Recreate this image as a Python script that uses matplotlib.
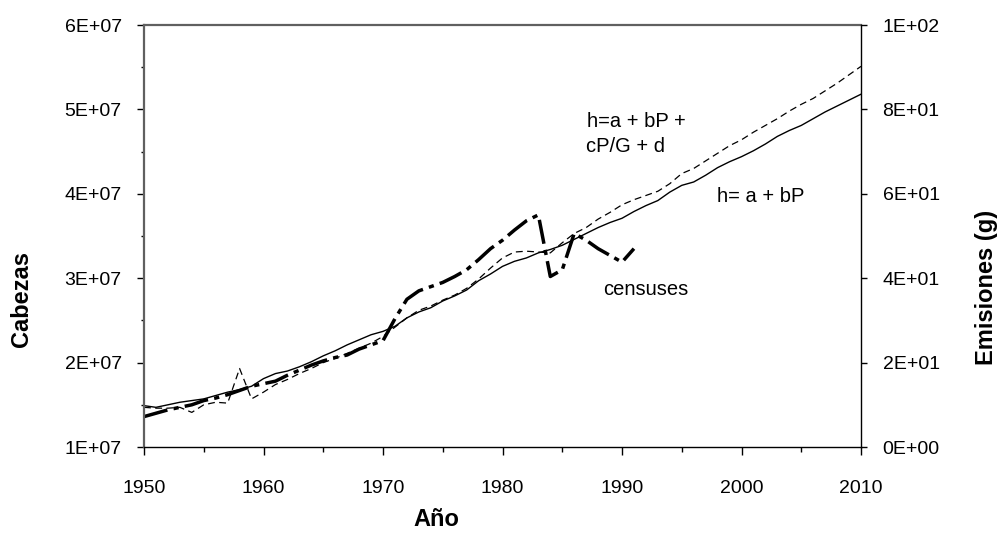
import numpy as np
import matplotlib
matplotlib.use("Agg")
import matplotlib.pyplot as plt
from matplotlib.ticker import FuncFormatter, MultipleLocator, FixedLocator

plt.rcParams['font.family'] = ['Liberation Sans', 'DejaVu Sans']

# ---------------- data (values in units of 1E+07 cabezas) ----------------
years_model = list(range(1950, 2011))
model_bp = [1.49, 1.47, 1.50, 1.53, 1.55, 1.57, 1.61, 1.65, 1.68, 1.72,
            1.81, 1.87, 1.90, 1.95, 2.01, 2.08, 2.14, 2.21, 2.27, 2.33,
            2.37, 2.43, 2.53, 2.60, 2.65, 2.73, 2.79, 2.86, 2.97, 3.05,
            3.14, 3.20, 3.24, 3.30, 3.34, 3.39, 3.46, 3.53, 3.60, 3.66,
            3.71, 3.79, 3.86, 3.92, 4.02, 4.10, 4.14, 4.22, 4.31, 4.38,
            4.44, 4.51, 4.59, 4.68, 4.75, 4.81, 4.89, 4.97, 5.04, 5.11,
            5.18]
model_full = [1.47, 1.46, 1.46, 1.47, 1.41, 1.50, 1.53, 1.52, 1.93, 1.57,
              1.65, 1.74, 1.80, 1.87, 1.93, 2.00, 2.05, 2.11, 2.17, 2.23,
              2.31, 2.42, 2.53, 2.62, 2.67, 2.74, 2.80, 2.88, 2.99, 3.12,
              3.24, 3.31, 3.32, 3.31, 3.30, 3.42, 3.53, 3.60, 3.70, 3.78,
              3.87, 3.93, 3.98, 4.03, 4.12, 4.24, 4.30, 4.39, 4.48, 4.57,
              4.64, 4.73, 4.81, 4.89, 4.98, 5.06, 5.13, 5.22, 5.31, 5.41,
              5.51]
years_census = list(range(1950, 1992))
census = [1.36, 1.40, 1.44, 1.47, 1.50, 1.55, 1.58, 1.62, 1.67, 1.72,
          1.75, 1.78, 1.85, 1.91, 1.97, 2.02, 2.06, 2.09, 2.16, 2.21,
          2.26, 2.52, 2.75, 2.85, 2.90, 2.95, 3.02, 3.10, 3.22, 3.35,
          3.45, 3.57, 3.68, 3.75, 3.02, 3.10, 3.53, 3.45, 3.35, 3.27,
          3.19, 3.35]
UNIT = 1e7

left_ticks = [1e7, 2e7, 3e7, 4e7, 5e7, 6e7]
right_ticks = [0, 20, 40, 60, 80, 100]
x_ticks = [1950, 1960, 1970, 1980, 1990, 2000, 2010]

# ---------------- figure ----------------
W, H = 1006, 533
fig = plt.figure(figsize=(W / 100, H / 100), dpi=100)
L, R, T, B = 144, 861, 25, 447
ax = fig.add_axes([L / W, 1 - B / H, (R - L) / W, (B - T) / H])

ax.plot(years_model, np.array(model_bp) * UNIT, color='black', lw=1.0,
        solid_joinstyle='round')
ax.plot(years_model, np.array(model_full) * UNIT, color='black', lw=0.9,
        linestyle=(0, (5.5, 3.5)))
ax.plot(years_census, np.array(census) * UNIT, color='black', lw=2.5,
        linestyle=(0, (7, 1.8, 1.5, 1.8)))

ax.set_xlim(1950, 2010)
ax.set_ylim(1e7, 6e7)
ax.xaxis.set_major_locator(FixedLocator(x_ticks))
ax.xaxis.set_minor_locator(MultipleLocator(5))
ax.yaxis.set_major_locator(FixedLocator(left_ticks))
ax.yaxis.set_minor_locator(MultipleLocator(5e6))
ax.yaxis.set_major_formatter(FuncFormatter(lambda v, p: f"{v:.0E}"))

ax.tick_params(axis='x', which='major', direction='out', length=6, width=1,
               labelsize=14, pad=17.5)
ax.tick_params(axis='x', which='minor', direction='out', length=3.5, width=1)
ax.tick_params(axis='y', which='major', direction='out', length=5, width=1,
               labelsize=14, pad=11)
ax.tick_params(axis='y', which='minor', direction='out', length=2.5, width=1)

for s in ['top', 'left']:
    ax.spines[s].set_color('#606060')
    ax.spines[s].set_linewidth(1.6)
ax.spines['bottom'].set_color('black')
ax.spines['bottom'].set_linewidth(1.0)
ax.spines['right'].set_visible(False)

ax2 = ax.twinx()
ax2.set_ylim(0, 100)
ax2.yaxis.set_major_locator(FixedLocator(right_ticks))
ax2.yaxis.set_major_formatter(FuncFormatter(lambda v, p: f"{v:.0E}"))
ax2.tick_params(axis='y', direction='out', length=4, width=1, labelsize=14,
                pad=11.5)
for s in ['top', 'left', 'bottom']:
    ax2.spines[s].set_visible(False)
ax2.spines['right'].set_color('black')
ax2.spines['right'].set_linewidth(1.0)

# annotations (data coordinates)
ax.text(1987.07, 4.795 * UNIT, "h=a + bP +", fontsize=14.5, va='baseline')
ax.text(1986.99, 4.499 * UNIT, "cP/G + d", fontsize=14.5, va='baseline')
ax.text(1997.92, 3.906 * UNIT, "h= a + bP", fontsize=14.5, va='baseline')
ax.text(1988.44, 2.80 * UNIT, "censuses", fontsize=14.5, va='baseline')

# axis titles
fig.text(436 / W, 1 - 519 / H, "Año", fontsize=17, fontweight='bold',
         ha='center', va='center')
fig.text(22 / W, 1 - 299 / H, "Cabezas", fontsize=17, fontweight='bold',
         ha='center', va='center', rotation=90)
fig.text(987 / W, 1 - 287 / H, "Emisiones (g)", fontsize=17,
         fontweight='bold', ha='center', va='center', rotation=90)

fig.savefig("out.png", dpi=100)
